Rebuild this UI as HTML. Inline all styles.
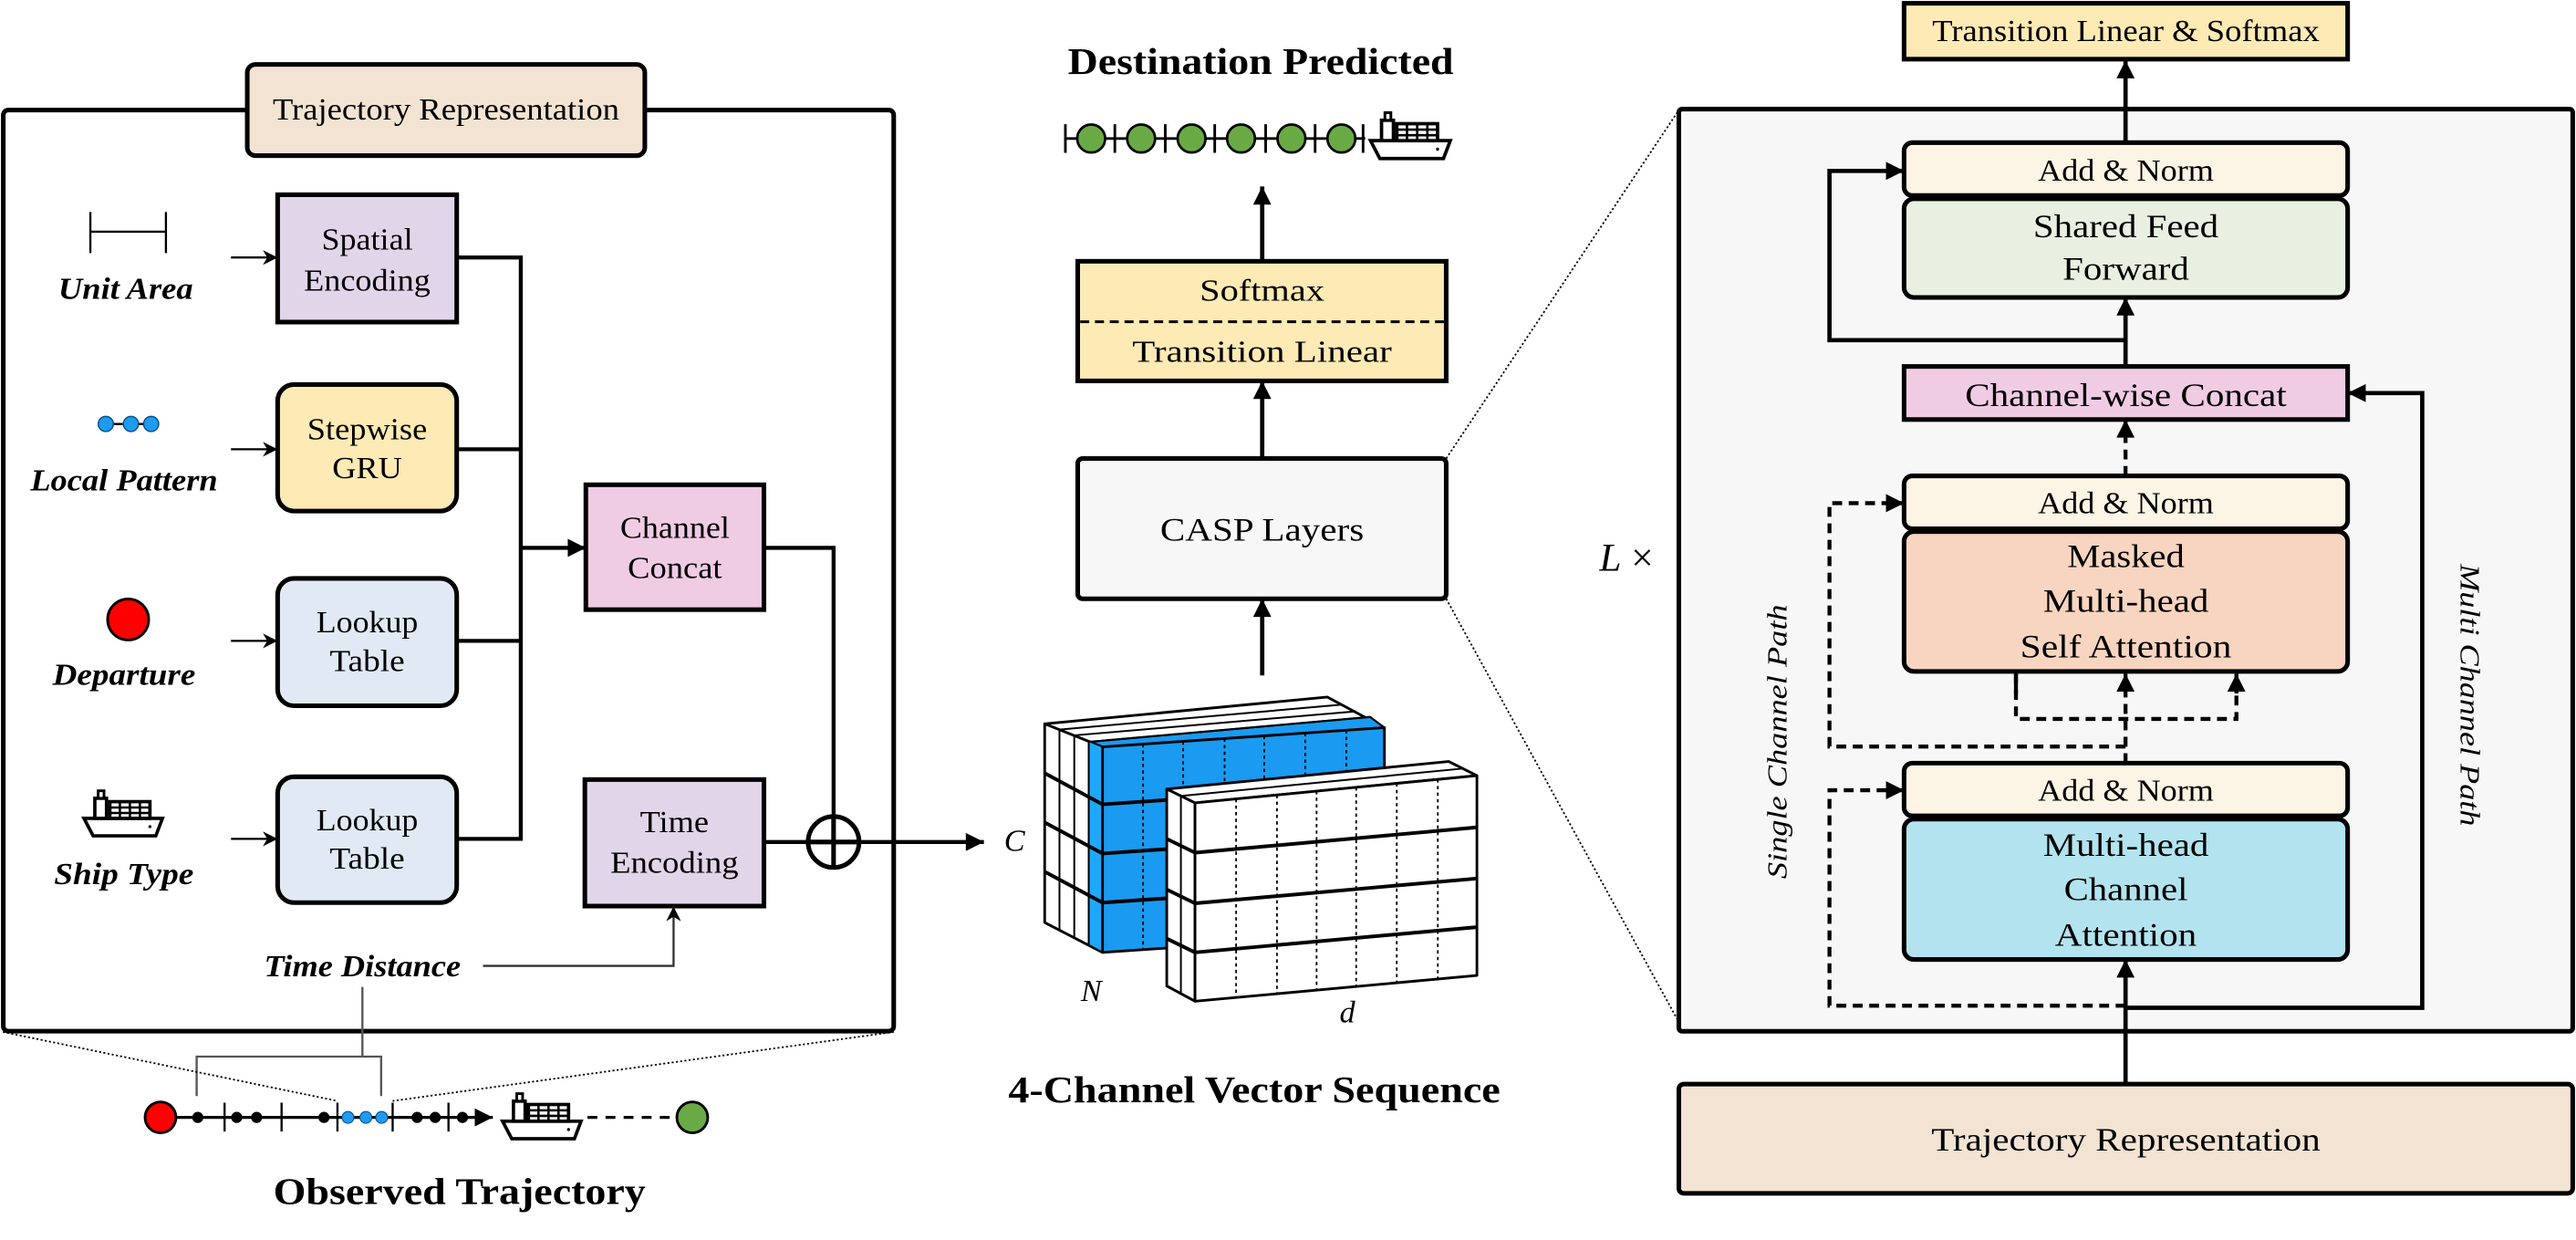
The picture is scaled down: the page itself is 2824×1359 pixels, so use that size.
<!DOCTYPE html>
<html><head><meta charset="utf-8"><style>
html,body{margin:0;padding:0;background:#fff}
svg{display:block}
svg text{font-family:"Liberation Serif","Times New Roman","Nimbus Roman",serif;fill:#000}
</style></head><body>
<svg width="2824" height="1359" viewBox="0 0 1568 754.6" preserveAspectRatio="none" xmlns="http://www.w3.org/2000/svg" font-family="'Liberation Serif', 'Times New Roman', serif">
<defs>
<marker id="ah" viewBox="0 0 10 10" refX="10" refY="5" markerWidth="13" markerHeight="11" markerUnits="userSpaceOnUse" orient="auto"><path d="M0,0 L10,5 L0,10 z" fill="#000"/></marker>
<marker id="as" viewBox="0 0 10 10" refX="10" refY="5" markerWidth="10" markerHeight="9" markerUnits="userSpaceOnUse" orient="auto"><path d="M0,0 L10,5 L0,10 L3,5 z" fill="#000"/></marker>
<symbol id="ship" viewBox="0 0 50 30">
<path d="M1.5,18 L48.5,18 L44.5,28.5 L7,28.5 Z" fill="#fff" stroke="#000" stroke-width="2"/>
<rect x="8" y="6" width="7" height="12" fill="#fff" stroke="#000" stroke-width="2"/>
<rect x="10" y="1.5" width="3.5" height="4.5" fill="#fff" stroke="#000" stroke-width="1.6"/>
<rect x="17" y="8" width="24" height="10" fill="#fff" stroke="#000" stroke-width="2"/>
<path d="M17,11.5 H41 M17,14.8 H41 M23,8 V18 M29,8 V18 M35,8 V18" stroke="#000" stroke-width="1.4"/>
<circle cx="41" cy="23" r="0.9" fill="#000"/>
</symbol>
</defs>

<!-- ============ LEFT PANEL ============ -->
<rect x="2" y="67" width="542" height="560.5" rx="3" fill="#fff" stroke="#000" stroke-width="2.8"/>
<rect x="150.5" y="39.2" width="242" height="55.5" rx="5" fill="#F2E3D3" stroke="#000" stroke-width="2.8"/>
<text x="271.5" y="67" text-anchor="middle" dominant-baseline="central" font-size="19" textLength="211" lengthAdjust="spacingAndGlyphs">Trajectory Representation</text>

<path d="M55,141 H101 M55,129 V154 M101,129 V154" stroke="#000" stroke-width="1.3" fill="none"/>
<text x="76.5" y="176" text-anchor="middle" dominant-baseline="central" font-size="19" font-weight="bold" font-style="italic" textLength="82" lengthAdjust="spacingAndGlyphs">Unit Area</text>
<path d="M64.4,258 H92" stroke="#000" stroke-width="1.3"/>
<circle cx="64.4" cy="258" r="4.6" fill="#1E9BF0" stroke="#0A4F8A" stroke-width="0.8"/>
<circle cx="79.7" cy="258" r="4.6" fill="#1E9BF0" stroke="#0A4F8A" stroke-width="0.8"/>
<circle cx="92" cy="258" r="4.6" fill="#1E9BF0" stroke="#0A4F8A" stroke-width="0.8"/>
<text x="75.5" y="292.5" text-anchor="middle" dominant-baseline="central" font-size="19" font-weight="bold" font-style="italic" textLength="114" lengthAdjust="spacingAndGlyphs">Local Pattern</text>
<circle cx="78" cy="377" r="12.5" fill="#FF0000" stroke="#000" stroke-width="1.6"/>
<text x="75.5" y="410.9" text-anchor="middle" dominant-baseline="central" font-size="19" font-weight="bold" font-style="italic" textLength="87" lengthAdjust="spacingAndGlyphs">Departure</text>
<use href="#ship" x="48.5" y="479.7" width="53" height="30.5"/>
<text x="75.4" y="532.2" text-anchor="middle" dominant-baseline="central" font-size="19" font-weight="bold" font-style="italic" textLength="85" lengthAdjust="spacingAndGlyphs">Ship Type</text>

<g stroke="#000" stroke-width="1.3" fill="none">
<path d="M140.6,156.7 H169" marker-end="url(#as)"/>
<path d="M140.6,273.4 H169" marker-end="url(#as)"/>
<path d="M140.6,390 H169" marker-end="url(#as)"/>
<path d="M140.6,510.5 H169" marker-end="url(#as)"/>
</g>

<rect x="169" y="118.5" width="109" height="77.5" fill="#E1D5EA" stroke="#000" stroke-width="2.8"/>
<text x="223.5" y="146" text-anchor="middle" dominant-baseline="central" font-size="19" textLength="55.6" lengthAdjust="spacingAndGlyphs">Spatial</text>
<text x="223.5" y="171" text-anchor="middle" dominant-baseline="central" font-size="19" textLength="77" lengthAdjust="spacingAndGlyphs">Encoding</text>

<rect x="169" y="234" width="109" height="77" rx="10" fill="#FDEAB4" stroke="#000" stroke-width="2.8"/>
<text x="223.5" y="261.5" text-anchor="middle" dominant-baseline="central" font-size="19" textLength="73" lengthAdjust="spacingAndGlyphs">Stepwise</text>
<text x="223.5" y="285" text-anchor="middle" dominant-baseline="central" font-size="19" textLength="42.5" lengthAdjust="spacingAndGlyphs">GRU</text>

<rect x="169" y="352" width="109" height="77.5" rx="10" fill="#E1EAF4" stroke="#000" stroke-width="2.8"/>
<text x="223.5" y="379" text-anchor="middle" dominant-baseline="central" font-size="19" textLength="62" lengthAdjust="spacingAndGlyphs">Lookup</text>
<text x="223.5" y="402.7" text-anchor="middle" dominant-baseline="central" font-size="19" textLength="45.7" lengthAdjust="spacingAndGlyphs">Table</text>

<rect x="169" y="472.7" width="109" height="76.6" rx="10" fill="#E1EAF4" stroke="#000" stroke-width="2.8"/>
<text x="223.5" y="499.6" text-anchor="middle" dominant-baseline="central" font-size="19" textLength="62" lengthAdjust="spacingAndGlyphs">Lookup</text>
<text x="223.5" y="522.9" text-anchor="middle" dominant-baseline="central" font-size="19" textLength="45.7" lengthAdjust="spacingAndGlyphs">Table</text>

<rect x="356.6" y="295" width="108.4" height="76" fill="#F0CCE4" stroke="#000" stroke-width="2.8"/>
<text x="410.8" y="321.5" text-anchor="middle" dominant-baseline="central" font-size="19" textLength="66.6" lengthAdjust="spacingAndGlyphs">Channel</text>
<text x="410.8" y="346" text-anchor="middle" dominant-baseline="central" font-size="19" textLength="57.4" lengthAdjust="spacingAndGlyphs">Concat</text>

<rect x="356" y="474.4" width="109" height="77" fill="#E1D5EA" stroke="#000" stroke-width="2.8"/>
<text x="410.5" y="500.7" text-anchor="middle" dominant-baseline="central" font-size="19" textLength="41.8" lengthAdjust="spacingAndGlyphs">Time</text>
<text x="410.5" y="525.2" text-anchor="middle" dominant-baseline="central" font-size="19" textLength="78" lengthAdjust="spacingAndGlyphs">Encoding</text>

<g stroke="#000" stroke-width="2.4" fill="none">
<path d="M278,156.7 H317 V510.5 H278"/>
<path d="M278,273.4 H317"/>
<path d="M278,390 H317"/>
<path d="M317,333.4 H356.6" marker-end="url(#ah)"/>
<path d="M465,333.4 H507.4 V497"/>
<path d="M465,512.4 H598.9" marker-end="url(#ah)"/>
</g>
<circle cx="507.4" cy="512.4" r="15.5" fill="#fff" stroke="#000" stroke-width="2.8"/>
<path d="M507.4,497 V528 M492,512.4 H523" stroke="#000" stroke-width="2.8"/>

<text x="220.6" y="588.3" text-anchor="middle" dominant-baseline="central" font-size="19" font-weight="bold" font-style="italic" textLength="119.7" lengthAdjust="spacingAndGlyphs">Time Distance</text>
<path d="M294,587.8 H410 V551.6" stroke="#333" stroke-width="1.3" fill="none" marker-end="url(#as)"/>
<path d="M220.6,600.6 V643 M119.7,667 V643 H232 V667" stroke="#555" stroke-width="1.3" fill="none"/>
<g stroke="#000" stroke-width="1" stroke-dasharray="1.2,1.4" fill="none">
<path d="M1.8,628 L205.4,670"/>
<path d="M544,628 L239,670"/>
</g>

<path d="M97.7,680 H300" stroke="#000" stroke-width="1.8" marker-end="url(#ah)"/>
<g stroke="#000" stroke-width="1.3">
<path d="M136.7,671 V688.6 M171.4,671 V688.6 M205.4,671 V688.6 M239,671 V688.6 M273,671 V688.6"/>
</g>
<g fill="#000">
<circle cx="120.4" cy="680" r="3.4"/><circle cx="144.1" cy="680" r="3.4"/><circle cx="156.2" cy="680" r="3.4"/><circle cx="197.2" cy="680" r="3.4"/><circle cx="253.9" cy="680" r="3.4"/><circle cx="264.9" cy="680" r="3.4"/><circle cx="281.5" cy="680" r="3.4"/>
</g>
<g fill="#1E9BF0" stroke="#0A4F8A" stroke-width="0.6">
<circle cx="211.8" cy="680" r="3.6"/><circle cx="222.7" cy="680" r="3.6"/><circle cx="232.3" cy="680" r="3.6"/>
</g>
<circle cx="97.7" cy="680" r="9.4" fill="#FF0000" stroke="#000" stroke-width="1.6"/>
<use href="#ship" x="303.8" y="664" width="52" height="30.5"/>
<path d="M357.6,680 H411" stroke="#000" stroke-width="1.8" stroke-dasharray="6,5"/>
<circle cx="421.4" cy="680" r="9.4" fill="#6AAA45" stroke="#000" stroke-width="1.6"/>
<text x="279.7" y="724.8" text-anchor="middle" dominant-baseline="central" font-size="23" font-weight="bold" textLength="226.6" lengthAdjust="spacingAndGlyphs">Observed Trajectory</text>

<!-- ============ MIDDLE ============ -->
<text x="767.4" y="37.2" text-anchor="middle" dominant-baseline="central" font-size="23" font-weight="bold" textLength="234.8" lengthAdjust="spacingAndGlyphs">Destination Predicted</text>
<path d="M648.5,84.3 H831" stroke="#000" stroke-width="1.6"/>
<path d="M648.5,75.6 V93 M678.6,75.6 V93 M709.3,75.6 V93 M739.4,75.6 V93 M770.4,75.6 V93 M800.5,75.6 V93 M829.7,75.6 V93" stroke="#000" stroke-width="1.6"/>
<g fill="#6AAA45" stroke="#000" stroke-width="1.5">
<circle cx="664.2" cy="84.3" r="8.5"/><circle cx="694.6" cy="84.3" r="8.5"/><circle cx="725.3" cy="84.3" r="8.5"/><circle cx="755.4" cy="84.3" r="8.5"/><circle cx="786.1" cy="84.3" r="8.5"/><circle cx="816.5" cy="84.3" r="8.5"/>
</g>
<use href="#ship" x="832" y="67" width="53" height="31"/>

<g stroke="#000" stroke-width="2.6" fill="none">
<path d="M768.3,158.7 V113.5" marker-end="url(#ah)"/>
<path d="M768.3,279 V231.8" marker-end="url(#ah)"/>
<path d="M768.3,411 V364.4" marker-end="url(#ah)"/>
</g>
<rect x="656" y="159" width="224.3" height="72.8" fill="#FDEAB4" stroke="#000" stroke-width="2.8"/>
<path d="M657.5,195.8 H879" stroke="#000" stroke-width="1.6" stroke-dasharray="5.5,3.5"/>
<text x="768.2" y="177.2" text-anchor="middle" dominant-baseline="central" font-size="19" textLength="76" lengthAdjust="spacingAndGlyphs">Softmax</text>
<text x="768.2" y="214.4" text-anchor="middle" dominant-baseline="central" font-size="19" textLength="158" lengthAdjust="spacingAndGlyphs">Transition Linear</text>
<rect x="656" y="279" width="224.3" height="85.4" rx="3" fill="#F7F7F7" stroke="#000" stroke-width="2.8"/>
<text x="768.2" y="322.3" text-anchor="middle" dominant-baseline="central" font-size="20" textLength="124" lengthAdjust="spacingAndGlyphs">CASP Layers</text>
<g stroke="#000" stroke-width="1" stroke-dasharray="1.2,1.4" fill="none">
<path d="M880.3,279 L1021.9,67"/>
<path d="M880.3,364.4 L1021.9,622"/>
</g>
<text x="990" y="339.6" text-anchor="middle" dominant-baseline="central" font-size="24"><tspan font-style="italic">L</tspan> ×</text>

<g stroke="#000" stroke-width="1.6" stroke-linejoin="round">
<polygon points="635.9,440.5 808,424.2 842.7,442.8 671.1,454.5" fill="#fff"/>
<polygon points="662.7,451.5 834,436.3 842.7,442.8 671.1,454.5" fill="#1A9AF0" stroke-width="1.2"/>
<path d="M644.9,444 L816.7,428.8 M653.9,447.5 L825.4,432.9 M662.7,451.5 L834,436.3" fill="none" stroke-width="1.1"/>
<polygon points="635.9,440.5 671.1,454.5 671.1,579.6 635.9,561.4" fill="#fff"/>
<polygon points="662.7,451 671.1,454.5 671.1,579.6 662.7,575" fill="#1EA8FF" stroke-width="1"/>
<path d="M644.9,444 V566 M653.9,447.5 V570.6 M662.7,451 V575" stroke-width="1.1" fill="none"/>
<path d="M635.9,470.5 L671.1,489.5 M635.9,500.5 L671.1,519.4 M635.9,530.5 L671.1,549.3" stroke-width="2.2" fill="none"/>
<polygon points="671.1,454.5 842.7,442.8 842.7,567.9 671.1,579.6" fill="#1A9AF0"/>
<path d="M671.1,489.5 L842.7,477.8 M671.1,519.4 L842.7,507.7 M671.1,549.3 L842.7,537.6" stroke-width="2.2" fill="none"/>
<path d="M695.8,452.8 V577.9 M720.2,451.2 V576.2 M745.4,449.4 V574.5 M769.5,447.8 V572.9 M794.5,446.1 V571.2 M819.5,444.4 V569.5" stroke-width="1" stroke-dasharray="2,2" fill="none"/>
</g>
<g stroke="#000" stroke-width="1.6" stroke-linejoin="round">
<polygon points="710.2,480.2 881.8,463.4 899,472 727.4,488.6" fill="#fff"/>
<path d="M718.8,484.4 L890.4,467.7" stroke-width="1.1" fill="none"/>
<polygon points="710.2,480.2 727.4,488.6 727.4,609.3 710.2,600" fill="#fff"/>
<path d="M718.8,484.4 V604.6" stroke-width="1.1" fill="none"/>
<path d="M710.2,510.5 L727.4,518.9 M710.2,541.3 L727.4,549.7 M710.2,571.2 L727.4,579.6" stroke-width="2.2" fill="none"/>
<polygon points="727.4,488.6 899,472 899,593.6 727.4,609.3" fill="#fff"/>
<path d="M727.4,518.9 L899,503.5 M727.4,549.7 L899,534.6 M727.4,579.6 L899,564.2" stroke-width="2.2" fill="none"/>
<path d="M752.4,486.2 V607 M777.3,483.8 V604.7 M801.4,481.4 V602.5 M825.5,479.1 V600.3 M850.2,476.7 V598.1 M875.2,474.3 V595.8" stroke-width="1" stroke-dasharray="2,2" fill="none"/>
</g>
<text x="617.5" y="512" text-anchor="middle" dominant-baseline="central" font-size="19" font-style="italic">C</text>
<text x="664.2" y="603.4" text-anchor="middle" dominant-baseline="central" font-size="19" font-style="italic">N</text>
<text x="820.1" y="616.3" text-anchor="middle" dominant-baseline="central" font-size="19" font-style="italic">d</text>
<text x="763.5" y="663" text-anchor="middle" dominant-baseline="central" font-size="23" font-weight="bold" textLength="299.5" lengthAdjust="spacingAndGlyphs">4-Channel Vector Sequence</text>

<!-- ============ RIGHT PANEL ============ -->
<rect x="1159" y="2" width="270" height="34" fill="#FDEAB4" stroke="#000" stroke-width="2.8"/>
<text x="1294" y="19.3" text-anchor="middle" dominant-baseline="central" font-size="19" textLength="235.7" lengthAdjust="spacingAndGlyphs">Transition Linear &amp; Softmax</text>

<rect x="1021.9" y="66.4" width="544.1" height="561.2" rx="2" fill="#F7F7F7" stroke="#000" stroke-width="2.8"/>

<g stroke="#000" stroke-width="2.6" fill="none">
<path d="M1293.8,86.8 V36.7" marker-end="url(#ah)"/>
<path d="M1293.8,223 V181" marker-end="url(#ah)"/>
<path d="M1293.8,207 H1113.6 V104 H1159" marker-end="url(#ah)"/>
<path d="M1293.8,613.3 H1474.4 V239.2 H1429" marker-end="url(#ah)"/>
<path d="M1293.8,659.7 V583.9" marker-end="url(#ah)"/>
</g>
<g stroke="#000" stroke-width="2.4" fill="none" stroke-dasharray="6,4">
<path d="M1293.8,289.6 V255.3" marker-end="url(#ah)"/>
<path d="M1293.8,454.3 H1113.6 V306.2 H1159" marker-end="url(#ah)"/>
<path d="M1293.8,464.4 V409.9" marker-end="url(#ah)"/>
<path d="M1227.1,409.9 V437.5 H1361.3 V409.9"/>
<path d="M1293.8,612 H1113.6 V480.9 H1159" marker-end="url(#ah)"/>
</g>
<path d="M1227.1,422 V409.9 M1361.3,422 V409.9" stroke="#000" stroke-width="2.4" marker-end="url(#ah)"/>

<rect x="1159" y="86.8" width="270" height="32.2" rx="5" fill="#FCF4E4" stroke="#000" stroke-width="2.8"/>
<text x="1294" y="104" text-anchor="middle" dominant-baseline="central" font-size="19" textLength="107" lengthAdjust="spacingAndGlyphs">Add &amp; Norm</text>
<rect x="1159" y="121" width="270" height="60" rx="6" fill="#E7F0E1" stroke="#000" stroke-width="2.8"/>
<text x="1294" y="137.6" text-anchor="middle" dominant-baseline="central" font-size="20" textLength="112.8" lengthAdjust="spacingAndGlyphs">Shared Feed</text>
<text x="1294" y="163.6" text-anchor="middle" dominant-baseline="central" font-size="20" textLength="77" lengthAdjust="spacingAndGlyphs">Forward</text>

<rect x="1159" y="223" width="270" height="32.3" fill="#F0CCE4" stroke="#000" stroke-width="2.8"/>
<text x="1294" y="240.5" text-anchor="middle" dominant-baseline="central" font-size="20" textLength="195.8" lengthAdjust="spacingAndGlyphs">Channel-wise Concat</text>

<rect x="1159" y="289.6" width="270" height="32.2" rx="5" fill="#FCF4E4" stroke="#000" stroke-width="2.8"/>
<text x="1294" y="306.5" text-anchor="middle" dominant-baseline="central" font-size="19" textLength="107" lengthAdjust="spacingAndGlyphs">Add &amp; Norm</text>
<rect x="1159" y="323.5" width="270" height="85.1" rx="6" fill="#F8D5C0" stroke="#000" stroke-width="2.8"/>
<text x="1294" y="338.4" text-anchor="middle" dominant-baseline="central" font-size="20" textLength="71.4" lengthAdjust="spacingAndGlyphs">Masked</text>
<text x="1294" y="365.7" text-anchor="middle" dominant-baseline="central" font-size="20" textLength="100.8" lengthAdjust="spacingAndGlyphs">Multi-head</text>
<text x="1294" y="393.5" text-anchor="middle" dominant-baseline="central" font-size="20" textLength="128.7" lengthAdjust="spacingAndGlyphs">Self Attention</text>

<rect x="1159" y="464.4" width="270" height="32.1" rx="5" fill="#FCF4E4" stroke="#000" stroke-width="2.8"/>
<text x="1294" y="481.4" text-anchor="middle" dominant-baseline="central" font-size="19" textLength="107" lengthAdjust="spacingAndGlyphs">Add &amp; Norm</text>
<rect x="1159" y="498.5" width="270" height="85.4" rx="6" fill="#B3E3EE" stroke="#000" stroke-width="2.8"/>
<text x="1294" y="514.1" text-anchor="middle" dominant-baseline="central" font-size="20" textLength="100.8" lengthAdjust="spacingAndGlyphs">Multi-head</text>
<text x="1294" y="541.2" text-anchor="middle" dominant-baseline="central" font-size="20" textLength="75.4" lengthAdjust="spacingAndGlyphs">Channel</text>
<text x="1294" y="568.8" text-anchor="middle" dominant-baseline="central" font-size="20" textLength="86.3" lengthAdjust="spacingAndGlyphs">Attention</text>

<text x="1082" y="451.3" text-anchor="middle" dominant-baseline="central" font-size="17" font-style="italic" transform="rotate(-90 1082 451.3)" textLength="167" lengthAdjust="spacingAndGlyphs">Single Channel Path</text>
<text x="1503.4" y="423" text-anchor="middle" dominant-baseline="central" font-size="17" font-style="italic" transform="rotate(90 1503.4 423)" textLength="159.5" lengthAdjust="spacingAndGlyphs">Multi Channel Path</text>

<rect x="1021.9" y="659.7" width="544.1" height="66.5" rx="3" fill="#F2E3D3" stroke="#000" stroke-width="2.8"/>
<text x="1294" y="693.6" text-anchor="middle" dominant-baseline="central" font-size="20" textLength="236.8" lengthAdjust="spacingAndGlyphs">Trajectory Representation</text>
</svg>
</body></html>
